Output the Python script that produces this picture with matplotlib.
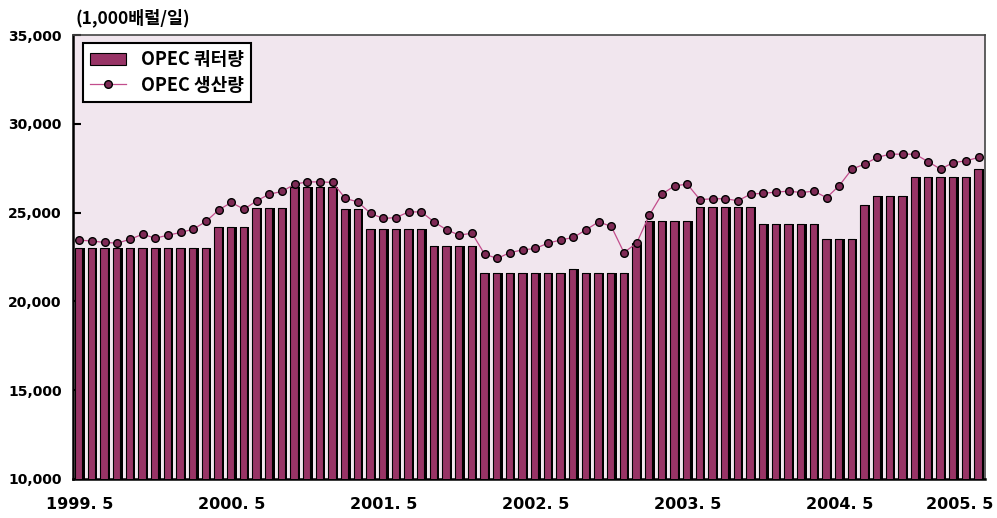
import numpy as np
import matplotlib.pyplot as plt
from matplotlib.transforms import ScaledTranslation

plt.rcParams['font.family'] = ['Noto Sans CJK KR', 'DejaVu Sans']

# OPEC quota (bars) and OPEC production (line), monthly from 1999.5, 1,000 b/d
quota = [23000] * 11 + [24200] * 3 + [25250] * 3 + [26450] * 4 + [25200] * 2 \
    + [24100] * 5 + [23100] * 4 + [21600] * 7 + [21800] + [21600] * 4 \
    + [23300] + [24500] * 4 + [25300] * 5 + [24350] * 5 + [23500] * 3 \
    + [25450] + [25950] * 3 + [27000] * 5 + [27450]

production = [
    23450, 23400, 23320, 23280, 23500, 23780, 23560, 23730, 23880, 24070,
    24500, 25150, 25570, 25190, 25660, 26040, 26190, 26600, 26730, 26730,
    26700, 25800, 25600, 24950, 24670, 24720, 25040, 25040, 24480, 24030,
    23730, 23840, 22660, 22420, 22750, 22900, 22980, 23280, 23460, 23600,
    24030, 24480, 24220, 22750, 23280, 24850, 26040, 26510, 26600, 25730,
    25780, 25780, 25670, 26040, 26090, 26150, 26210, 26130, 26210, 25840,
    26520, 27450, 27730, 28110, 28290, 28290, 28290, 27870, 27450, 27820,
    27910, 28110,
]

xtick_pos = [0, 12, 24, 36, 48, 60, 71]
xtick_labels = ['1999. 5', '2000. 5', '2001. 5', '2002. 5', '2003. 5', '2004. 5', '2005. 5']
yticks = [10000, 15000, 20000, 25000, 30000, 35000]

fig = plt.figure(figsize=(9.97, 5.18), dpi=100)
ax = fig.add_axes([0.0732, 0.0753, 0.9147, 0.8571])
ax.set_facecolor('#f1e6ee')

x = np.arange(len(quota))
# dark shadow on the right side of each bar, then the bar body
ax.bar(x + 0.06, quota, width=0.72, color='black', zorder=2)
bars = ax.bar(x - 0.05, quota, width=0.6, color='#983466', edgecolor='black',
              linewidth=0.8, zorder=3, label='OPEC 쿼터량')
line, = ax.plot(x, production, color='#c24d8c', linewidth=0.9, marker='o',
                markersize=5.5, markerfacecolor='#7e2a55', markeredgecolor='black',
                markeredgewidth=1.0, zorder=5, label='OPEC 생산량')

ax.set_xlim(-0.5, len(quota) - 0.5)
ax.set_ylim(10000, 35000)

ax.set_yticks(yticks)
ax.set_yticklabels([f'{v:,}' for v in yticks], family='DejaVu Sans',
                   fontweight='bold', fontsize=10)
ax.tick_params(axis='y', direction='in', length=6, width=1.5, pad=8)

ax.set_xticks(xtick_pos)
ax.set_xticklabels(xtick_labels, family='DejaVu Sans', fontweight='bold', fontsize=11.5)
ax.tick_params(axis='x', length=0, pad=13)
last = ax.get_xticklabels()[-1]
last.set_horizontalalignment('right')
last.set_transform(last.get_transform() + ScaledTranslation(0.15, 0, fig.dpi_scale_trans))

for side in ['left', 'bottom']:
    ax.spines[side].set_linewidth(1.8)
    ax.spines[side].set_color('black')
for side in ['top', 'right']:
    ax.spines[side].set_linewidth(1.2)
    ax.spines[side].set_color('#444444')

fig.text(75 / 997, 1 - 18 / 518, '(1,000배럴/일)', ha='left', va='center',
         fontsize=12.5, fontweight='bold')

leg = ax.legend(handles=[bars, line], loc='upper left', bbox_to_anchor=(0.011, 0.982),
                borderaxespad=0, fancybox=False, edgecolor='black', facecolor='white',
                framealpha=1, handlelength=2.0, handletextpad=0.8, borderpad=0.4,
                labelspacing=0.35, prop={'weight': 'bold', 'size': 13})
leg.get_frame().set_linewidth(1.5)

fig.savefig('out.png', dpi=100)
